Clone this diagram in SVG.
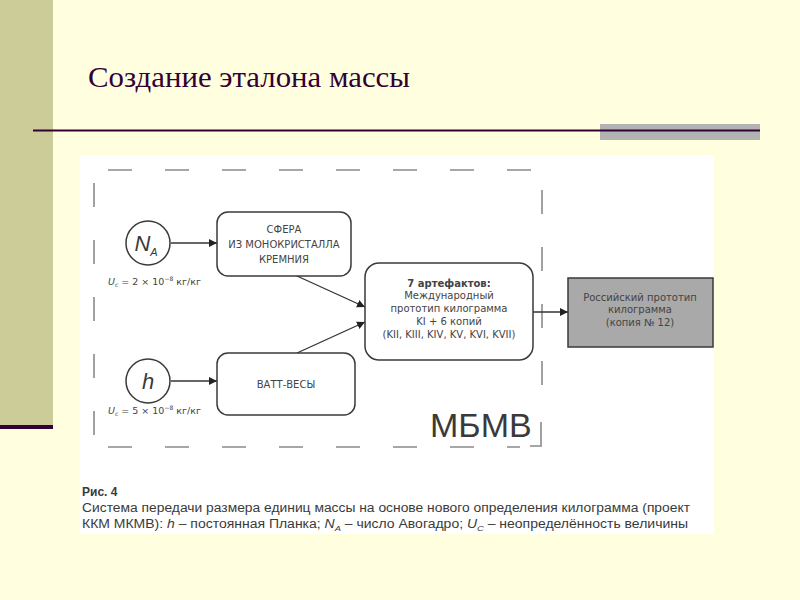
<svg xmlns="http://www.w3.org/2000/svg" width="800" height="600" viewBox="0 0 800 600">
<defs>
<style>
.t{font-family:"Liberation Sans",Arial,sans-serif;fill:#3a3a3a;}
.d{font-family:"DejaVu Sans","Liberation Sans",sans-serif;fill:#444;}
.bx{fill:#fff;stroke:#3a3a3a;stroke-width:1.5;}
.cn{stroke:#333;stroke-width:1.3;fill:none;marker-end:url(#ah);}
.dash{stroke:#8a8a8a;stroke-width:1.6;fill:none;stroke-dasharray:24 33;}
</style>
<marker id="ah" viewBox="0 0 10 10" refX="10" refY="5" markerWidth="8" markerHeight="8" markerUnits="userSpaceOnUse" orient="auto">
<path d="M0,0 L10,5 L0,10 z" fill="#222"/>
</marker>
</defs>
<rect width="800" height="600" fill="#FFFFE0"/>
<rect x="0" y="0" width="53" height="425" fill="#CCCC99"/>
<rect x="0" y="425" width="53" height="4" fill="#330033"/>
<text x="88" y="87" font-family="'Liberation Serif','Times New Roman',serif" font-size="30" fill="#330033" textLength="322" lengthAdjust="spacingAndGlyphs">Создание эталона массы</text>
<rect x="600" y="124" width="160" height="16" fill="#B2B2B2"/>
<line x1="33" y1="130.5" x2="760" y2="130.5" stroke="#330033" stroke-width="2"/>
<rect x="80" y="155" width="634" height="379" fill="#FFFFFF"/>

<g id="frame">
<path class="dash" d="M108 170 H540"/>
<path class="dash" d="M94 183 V445"/>
<path class="dash" d="M108 447 H520"/>
<path class="dash" d="M542 190 V410"/>
<path d="M541 422 V446 H530" stroke="#8a8a8a" stroke-width="1.6" fill="none"/>
<text class="t" x="430" y="437" font-size="34" fill="#222">МБМВ</text>
</g>

<g id="connectors">
<line class="cn" x1="171" y1="243" x2="217" y2="243"/>
<line class="cn" x1="171" y1="381" x2="217" y2="381"/>
<line class="cn" x1="297" y1="276" x2="365" y2="307"/>
<line class="cn" x1="297" y1="353" x2="365" y2="322"/>
<line class="cn" x1="533" y1="312" x2="568" y2="312"/>
</g>

<g id="NA">
<circle cx="148" cy="243" r="22" fill="#fff" stroke="#3a3a3a" stroke-width="1.5"/>
<text class="t" x="146" y="251" font-size="22" font-style="italic" text-anchor="middle">N<tspan font-size="11" dy="5">A</tspan></text>
<text class="d" x="108" y="285" font-size="9.5" font-style="italic">U<tspan font-size="6" dy="2">c</tspan><tspan dy="-2" font-style="normal"> = 2 × 10</tspan><tspan font-size="6" dy="-4" font-style="normal">−8</tspan><tspan dy="4" font-style="normal"> кг/кг</tspan></text>
</g>

<g id="h">
<circle cx="148" cy="381" r="22" fill="#fff" stroke="#3a3a3a" stroke-width="1.5"/>
<text class="t" x="148" y="389" font-size="22" font-style="italic" text-anchor="middle">h</text>
<text class="d" x="108" y="414" font-size="9.5" font-style="italic">U<tspan font-size="6" dy="2">c</tspan><tspan dy="-2" font-style="normal"> = 5 × 10</tspan><tspan font-size="6" dy="-4" font-style="normal">−8</tspan><tspan dy="4" font-style="normal"> кг/кг</tspan></text>
</g>

<g id="sphere">
<rect class="bx" x="217" y="212" width="134" height="64" rx="11"/>
<text class="d" font-size="10" text-anchor="middle"><tspan x="284" y="233">СФЕРА</tspan><tspan x="284" y="248">ИЗ МОНОКРИСТАЛЛА</tspan><tspan x="284" y="263">КРЕМНИЯ</tspan></text>
</g>

<g id="watt">
<rect class="bx" x="217" y="353" width="138" height="62" rx="11"/>
<text class="d" x="286" y="388" font-size="10" text-anchor="middle">ВАТТ-ВЕСЫ</text>
</g>

<g id="artifacts">
<rect class="bx" x="365" y="263" width="168" height="97" rx="14"/>
<text class="d" font-size="10" text-anchor="middle"><tspan x="449" y="287" font-weight="bold">7 артефактов:</tspan><tspan x="449" y="299">Международный</tspan><tspan x="449" y="312">прототип килограмма</tspan><tspan x="449" y="325">KI + 6 копий</tspan><tspan x="449" y="338">(KII, KIII, KIV, KV, KVI, KVII)</tspan></text>
</g>

<g id="russian">
<rect x="568" y="278" width="145" height="69" fill="#A9A9A9" stroke="#3a3a3a" stroke-width="1.5"/>
<text class="d" font-size="10" text-anchor="middle"><tspan x="640" y="301">Российский прототип</tspan><tspan x="640" y="313">килограмма</tspan><tspan x="640" y="326">(копия № 12)</tspan></text>
</g>

<g id="caption">
<text class="t" x="82" y="496" font-size="12" font-weight="bold" fill="#222">Рис. 4</text>
<text class="t" x="82" y="512" font-size="12" fill="#222" textLength="608" lengthAdjust="spacingAndGlyphs">Система передачи размера единиц массы на основе нового определения килограмма (проект</text>
<text class="t" x="82" y="528" font-size="12" fill="#222" textLength="606" lengthAdjust="spacingAndGlyphs">ККМ МКМВ): <tspan font-style="italic">h</tspan> – постоянная Планка; <tspan font-style="italic">N<tspan font-size="8" dy="3">A</tspan></tspan><tspan dy="-3"> – число Авогадро; </tspan><tspan font-style="italic">U<tspan font-size="8" dy="3">C</tspan></tspan><tspan dy="-3"> – неопределённость величины</tspan></text>
</g>
</svg>
